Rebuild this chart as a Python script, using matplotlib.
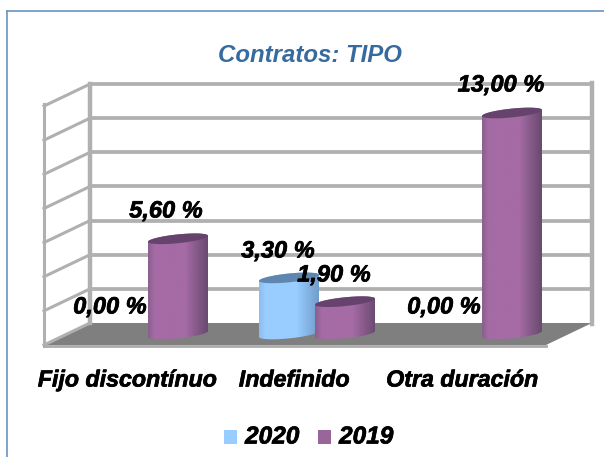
import numpy as np
from matplotlib import pyplot as plt
from matplotlib import patheffects
from matplotlib.colors import LinearSegmentedColormap
from matplotlib.patches import Polygon, Rectangle
from matplotlib.transforms import Affine2D

categories = ["Fijo discontínuo", "Indefinido", "Otra duración"]
series_names = ["2020", "2019"]
values_2020 = [0.00, 3.30, 0.00]
values_2019 = [5.60, 1.90, 13.00]
y_ticks = [0, 2, 4, 6, 8, 10, 12, 14]

W, H = 604, 457
PX_X = 167.0   # px per category
PX_Y = 17.0    # px per unit
X0 = 150.0     # px of first category
Y0 = 334.0     # px of value 0 (front of the bars)
BACK_Y0 = 323.0  # value 0 on the back wall
DX_WALL = 46
DY_WALL = 22
BAR_OFF = 28.0

plt.rcParams['font.family'] = ['Liberation Sans', 'DejaVu Sans']

fig = plt.figure(figsize=(W / 100, H / 100), dpi=100)
ax = fig.add_axes([0, 0, 1, 1])
ax.set_xlim(-X0 / PX_X, (W - X0) / PX_X)
ax.set_ylim(-(H - Y0) / PX_Y, Y0 / PX_Y)
ax.axis('off')

# pixel coords, y going down, for the frame, walls and text
px = Affine2D().scale(1, -1).translate(0, H)

GRAY = '#B0B0B0'
FLOOR = '#7F7F7F'
BORDER = '#6A94C4'

# chart border
ax.plot([6.5, 6.5], [10.5, H], color=BORDER, lw=1.2, transform=px, clip_on=False)
ax.plot([6.5, W], [10.5, 10.5], color=BORDER, lw=1.2, transform=px, clip_on=False)

# walls and floor
left_x, right_x = 90, 592
ax.add_patch(Polygon([(left_x, BACK_Y0), (right_x, BACK_Y0), (right_x - DX_WALL, 345), (left_x - DX_WALL, 345)],
                     closed=True, fc=FLOOR, ec='none', transform=px, zorder=1))
for t in y_ticks:
    yb = BACK_Y0 - t * 17.07
    yf = yb + DY_WALL
    if t > 0:
        ax.plot([left_x, right_x], [yb, yb], color=GRAY, lw=2.7, transform=px, zorder=1,
                solid_capstyle='butt')
    ax.plot([left_x - DX_WALL, left_x], [yf, yb], color=GRAY, lw=2.2, transform=px, zorder=1)
ax.plot([left_x, left_x], [84, BACK_Y0], color=GRAY, lw=3.2, transform=px, zorder=1)
ax.plot([right_x, right_x], [83, BACK_Y0 + 1], color=GRAY, lw=3.2, transform=px, zorder=1)
ax.plot([left_x - DX_WALL, left_x - DX_WALL], [104, 346], color=GRAY, lw=2.2, transform=px, zorder=1)
ax.plot([left_x - DX_WALL, right_x - DX_WALL], [346, 346], color='#ABABAB', lw=2, transform=px, zorder=1)


def cylinder(xc, val, c_left, c_mid, c_right, c_top, z):
    # half width, ellipse minor and tilt are in px, turned into data units
    a = 30.0 / PX_X
    b = 4.4 / PX_Y
    tilt = 3.0 / PX_Y
    t = np.linspace(0, 2 * np.pi, 120)
    ex = a * np.cos(t)
    ey = b * np.sin(t) + tilt * np.cos(t)
    low = np.sin(t) < 0
    s = np.argsort(ex[low])
    s2 = np.argsort(ex[~low])[::-1]
    body = Polygon(np.column_stack([xc + np.r_[ex[low][s], ex[~low][s2]],
                                    np.r_[ey[low][s], val + ey[~low][s2]]]),
                   closed=True, fc='none', ec='none', zorder=z)
    ax.add_patch(body)
    cmap = LinearSegmentedColormap.from_list('c', [(0, c_left), (0.1, c_mid), (0.62, c_mid), (1, c_right)])
    grad = np.linspace(0, 1, 64)[None, :]
    im = ax.imshow(grad, extent=[xc - a, xc + a, -1, val + 1], aspect='auto', cmap=cmap,
                   zorder=z, interpolation='bilinear')
    im.set_clip_path(body)
    ax.add_patch(Polygon(np.column_stack([xc + ex, val + ey]), closed=True, fc=c_top, ec='none', zorder=z))


for i in range(len(categories)):
    if values_2020[i] > 0:
        cylinder(i - BAR_OFF / PX_X, values_2020[i], '#8DBDEE', '#99CCFF', '#6F9CCB', '#5F86AE', 3)
    if values_2019[i] > 0:
        cylinder(i + BAR_OFF / PX_X, values_2019[i], '#8A5F8E', '#A56BA5', '#6A4A70', '#66436C', 4)

bold = [patheffects.withStroke(linewidth=0.5, foreground='black')]
txt = dict(fontsize=17, fontweight='bold', fontstyle='italic', color='black', path_effects=bold)

# value labels, placed by hand like the original
label_pos_2020 = [(110, 307), (278, 251), (444, 307)]
label_pos_2019 = [(166, 211), (334, 275), (501, 85)]
for vals, pos in ((values_2020, label_pos_2020), (values_2019, label_pos_2019)):
    for v, (xp, yp) in zip(vals, pos):
        s = ('%.2f' % v).replace('.', ',') + ' %'
        ax.text(xp, yp, s, transform=px, ha='center', va='center', zorder=6, **txt)

# category labels
cat_x = [127, 294, 462]
for x, c in zip(cat_x, categories):
    ax.text(x, 380, c, transform=px, ha='center', va='center', **{**txt, 'fontsize': 16.7})

# title
ax.text(310, 55, "Contratos: TIPO", transform=px, fontsize=17.3, fontweight='bold', fontstyle='italic',
        color='#376A9E', ha='center', va='center')

# legend
for x, col, name in ((224, '#99CCFF', series_names[0]), (318, '#9A6699', series_names[1])):
    ax.add_patch(Rectangle((x, 430), 13, 14, fc=col, ec='none', transform=px))
    ax.text(x + 21, 437, name, transform=px, ha='left', va='center', **{**txt, 'fontsize': 17.6})

fig.savefig('out.png', dpi=100)
